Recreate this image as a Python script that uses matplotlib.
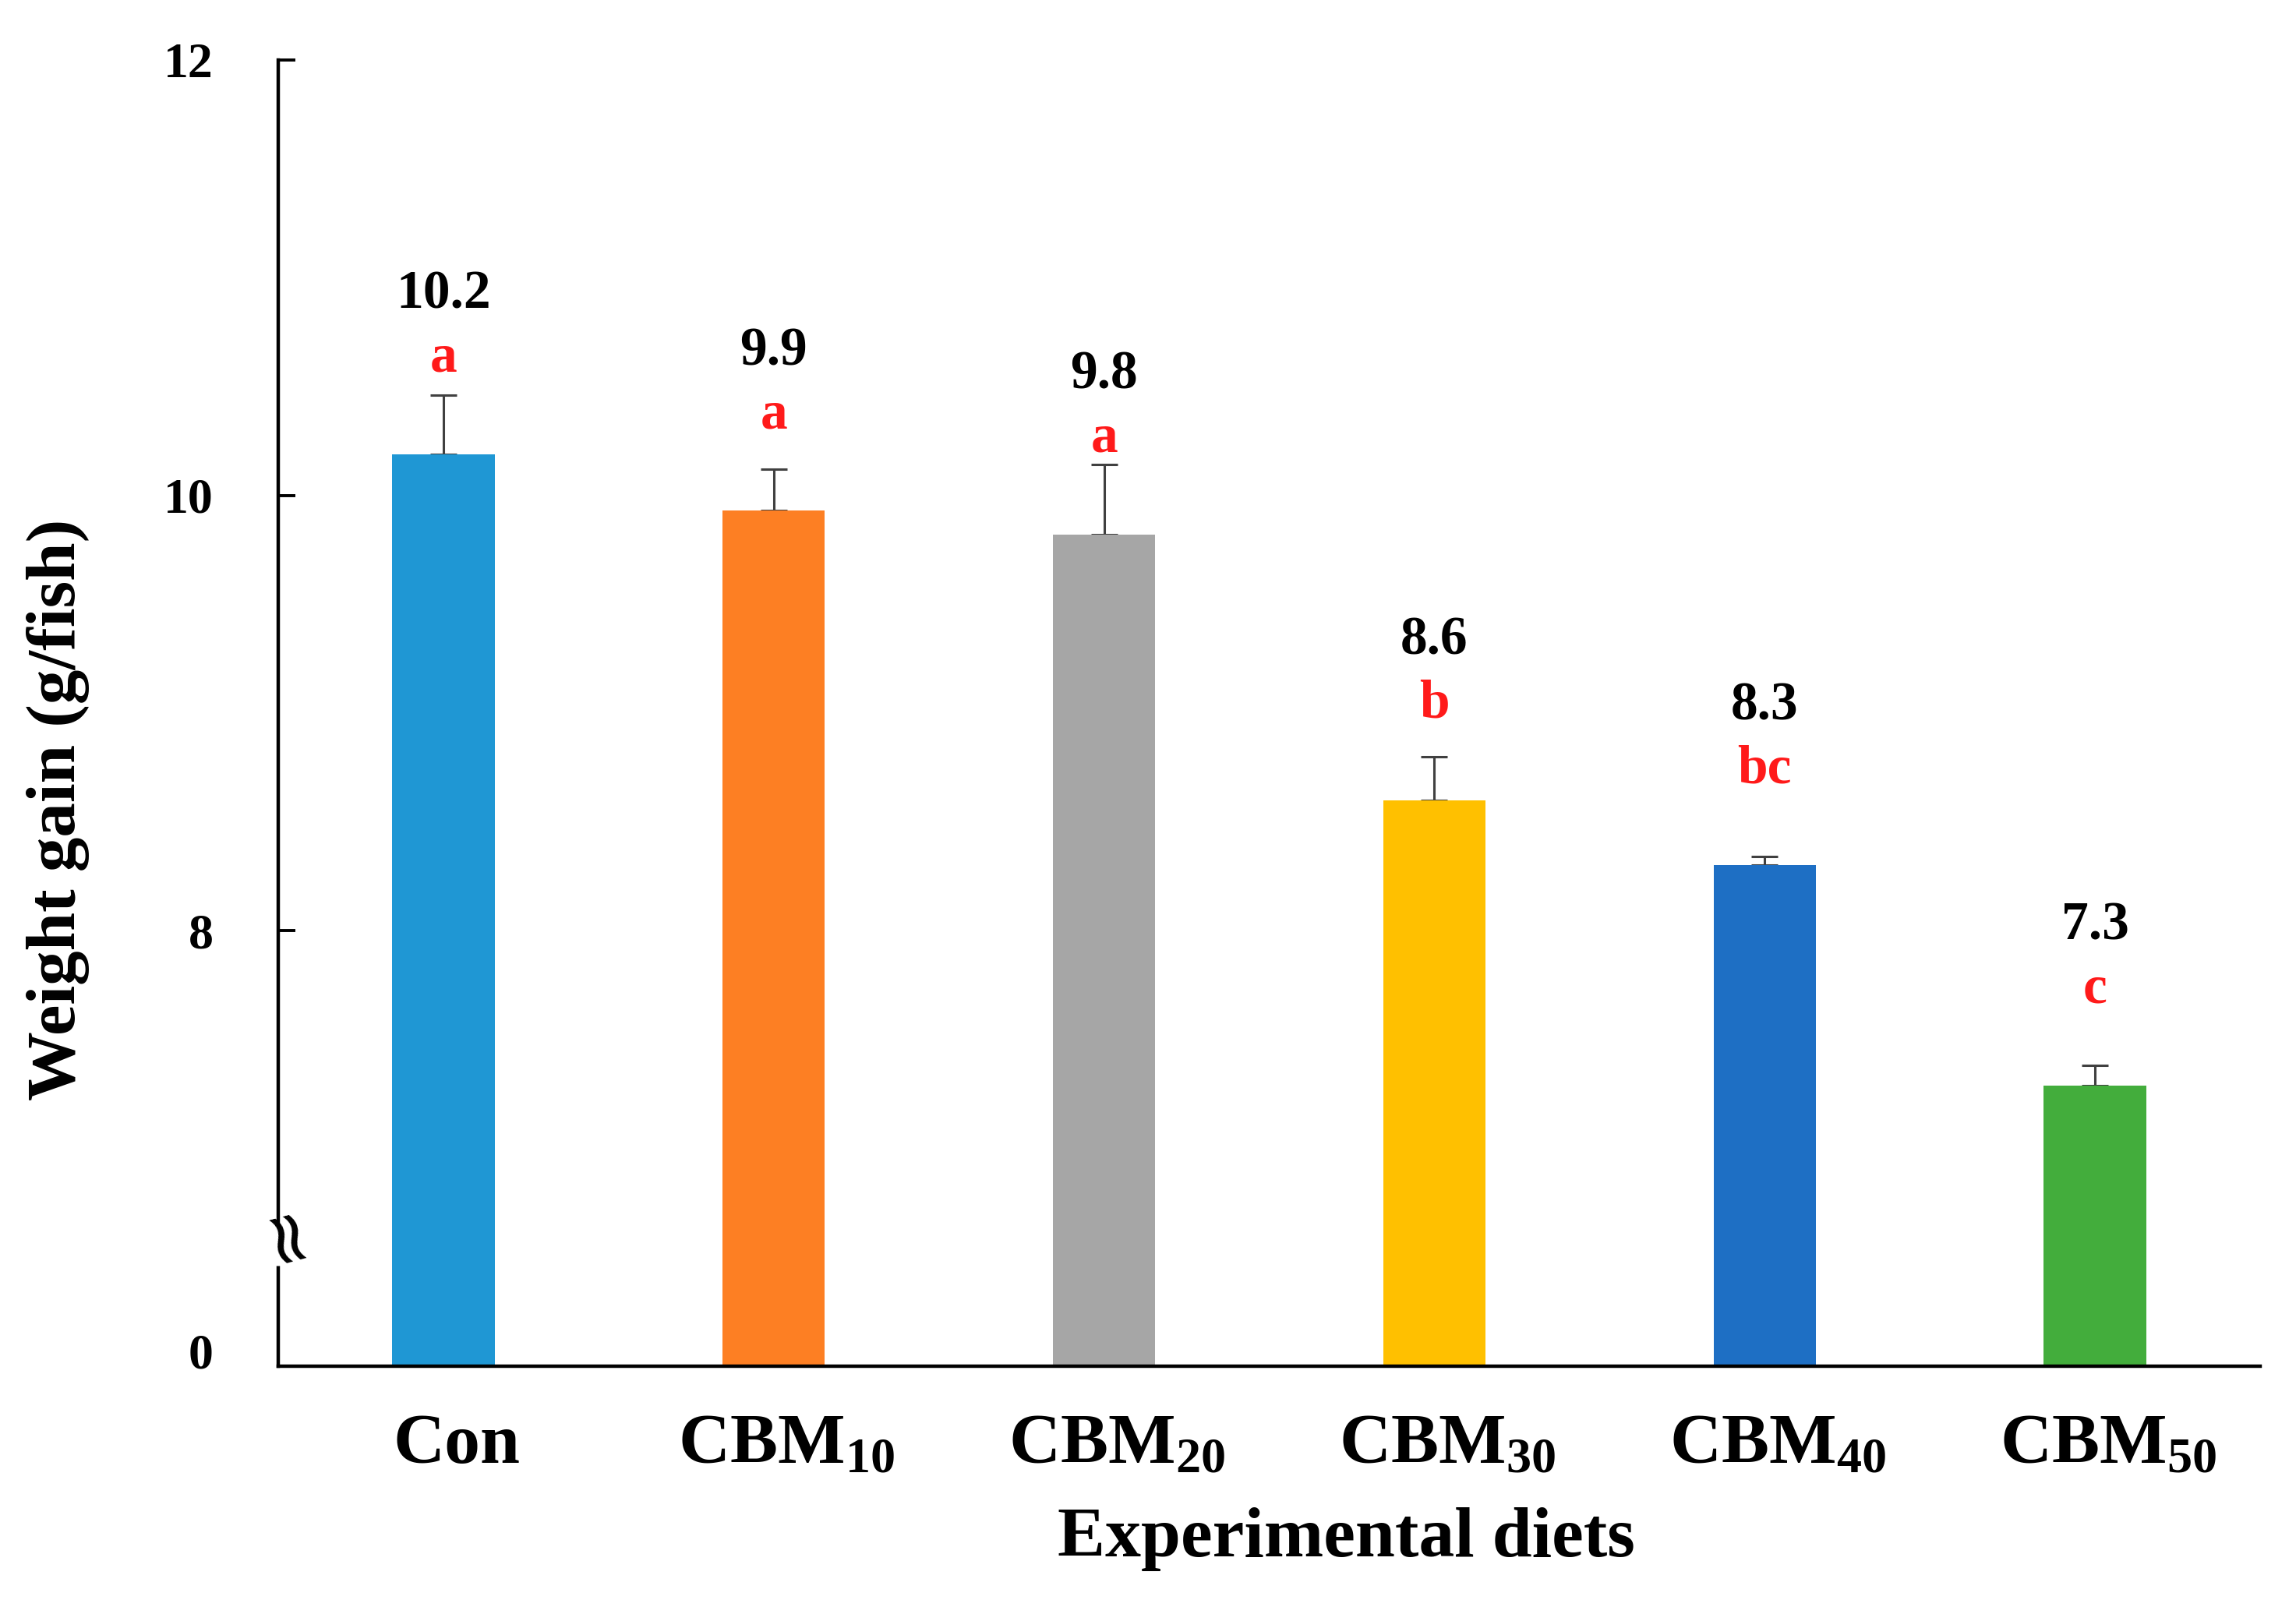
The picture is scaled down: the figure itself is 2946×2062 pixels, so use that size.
import matplotlib
matplotlib.use("Agg")
import matplotlib.pyplot as plt
import matplotlib.transforms as mtransforms
import numpy as np

# ---- data ----
categories = ["Con", "CBM$_{\\mathbf{10}}$", "CBM$_{\\mathbf{20}}$", "CBM$_{\\mathbf{30}}$",
              "CBM$_{\\mathbf{40}}$", "CBM$_{\\mathbf{50}}$"]
weight_gain = [10.19, 9.93, 9.82, 8.60, 8.30, 7.29]
sd = [0.27, 0.19, 0.32, 0.20, 0.04, 0.09]
value_labels = ["10.2", "9.9", "9.8", "8.6", "8.3", "7.3"]
letters = ["a", "a", "a", "b", "bc", "c"]
bar_colors = ["#1f97d4", "#fd7f23", "#a6a6a6", "#ffc000", "#1e6fc4", "#43ad3c"]
ytick_values = [6, 8, 10, 12]
ytick_labels = ["0", "8", "10", "12"]

plt.rcParams["font.family"] = ["Liberation Serif", "DejaVu Serif"]
plt.rcParams["font.weight"] = "bold"
plt.rcParams["mathtext.fontset"] = "custom"
plt.rcParams["mathtext.rm"] = "Liberation Serif:bold"
plt.rcParams["mathtext.bf"] = "Liberation Serif:bold"
plt.rcParams["mathtext.it"] = "Liberation Serif:bold:italic"

fig = plt.figure(figsize=(14.73, 10.31), dpi=200)
ax = fig.add_axes([0.1212, 0.1499, 0.8632, 0.8128])

x = np.arange(len(categories))
ax.errorbar(x, weight_gain, yerr=[np.zeros(len(sd)), sd], fmt="none",
            ecolor="#404040", elinewidth=1.1, capsize=6, capthick=1.1, zorder=1)
ax.bar(x, weight_gain, width=0.31, color=bar_colors, zorder=2)

for xi, v, lab, let in zip(x, weight_gain, value_labels, letters):
    ax.text(xi, v + 0.44, let, ha="center", va="center", color="#ff1a1a",
            fontsize=25, fontweight="bold")
    ax.text(xi, v + 0.73, lab, ha="center", va="center", color="black",
            fontsize=25, fontweight="bold")

ax.set_xlim(-0.5, 5.5)
ax.set_ylim(6, 12)
ax.set_yticks(ytick_values)
ax.set_yticklabels(ytick_labels, fontsize=23, fontweight="bold")
ax.set_xticks(x)
ax.set_xticklabels(categories, fontsize=33, fontweight="bold")

ax.tick_params(axis="y", direction="in", length=8, width=1.4, pad=30)
ax.tick_params(axis="x", length=0, pad=22)
ax.yaxis.get_major_ticks()[0].tick1line.set_visible(False)

# small offsets of tick labels as in the reference
for lbl in ax.get_xticklabels():
    lbl.set_transform(lbl.get_transform() +
                      mtransforms.ScaledTranslation(6 / 72, 0, fig.dpi_scale_trans))
ylbl0 = ax.get_yticklabels()[0]
ylbl0.set_transform(ylbl0.get_transform() +
                    mtransforms.ScaledTranslation(0, 7 / 72, fig.dpi_scale_trans))

for side in ["top", "right"]:
    ax.spines[side].set_visible(False)
ax.spines["left"].set_linewidth(1.6)
ax.spines["bottom"].set_linewidth(1.6)

ax.set_ylabel("Weight gain (g/fish)", fontsize=32, fontweight="bold")
ax.yaxis.set_label_coords(-0.095, 0.426)
ax.set_xlabel("Experimental diets", fontsize=33, fontweight="bold")
ax.xaxis.set_label_coords(0.539, -0.108)

# axis break marker
trans = mtransforms.blended_transform_factory(ax.transAxes, ax.transData)
ax.plot([0, 0], [6.46, 6.64], color="white", lw=6, transform=trans,
        clip_on=False, zorder=5, solid_capstyle="butt")
ax.text(0, 6.55, "\u2248", transform=trans, ha="center", va="center",
        fontsize=34, fontweight="normal", rotation=-75, zorder=6,
        family="DejaVu Sans")

fig.savefig("out.png", dpi=200, facecolor="white")
